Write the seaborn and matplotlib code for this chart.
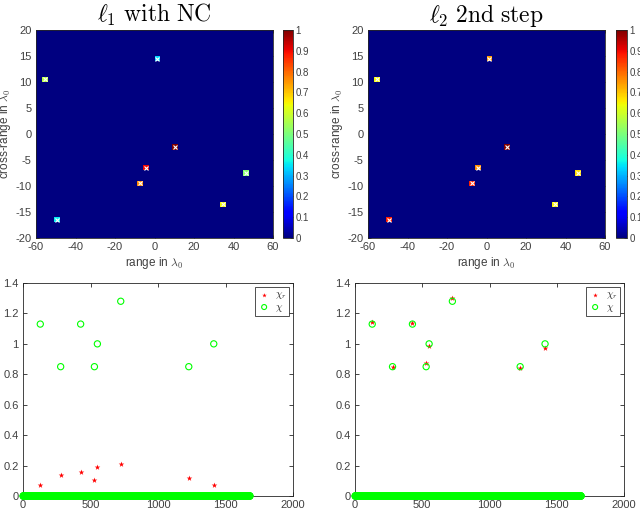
import numpy as np
import pandas as pd
import matplotlib
matplotlib.use("Agg")
import matplotlib.pyplot as plt
import seaborn as sns

# ---------------- data ----------------
target_index = [128, 279, 427, 529, 551, 724, 1228, 1413]
chi_true = [1.13, 0.85, 1.13, 0.85, 1.00, 1.28, 0.85, 1.00]
chi_r_nc = [0.075, 0.135, 0.160, 0.108, 0.190, 0.210, 0.120, 0.070]
chi_r_2nd = [1.141, 0.846, 1.136, 0.877, 0.985, 1.299, 0.840, 0.974]
target_x = [-49.5, 34.5, -7.5, 46.5, -4.5, 10.5, -55.5, 1.5]
target_y = [-16.5, -13.5, -9.5, -7.5, -6.5, -2.5, 10.5, 14.5]
n_unknowns = 1681
titles = [r"$\ell_1\ \mathrm{with\ NC}$", r"$\ell_2\ \mathrm{2nd\ step}$"]
x_ticks = [-60, -40, -20, 0, 20, 40, 60]
y_ticks = [20, 15, 10, 5, 0, -5, -10, -15, -20]
cbar_ticks = [0, 0.1, 0.2, 0.3, 0.4, 0.5, 0.6, 0.7, 0.8, 0.9, 1]
bx_ticks = [0, 500, 1000, 1500, 2000]
by_ticks = [0, 0.2, 0.4, 0.6, 0.8, 1.0, 1.2, 1.4]

# ---------------- style ----------------
sns.set_style("ticks")
plt.rcParams["font.family"] = ["Liberation Sans", "DejaVu Sans"]
plt.rcParams["mathtext.fontset"] = "cm"
TXT = "#404040"
EDGE = "#262626"

fig = plt.figure(figsize=(6.4, 5.09), dpi=100)
W, H = 640.0, 509.0


def fax(l, t, r, b):
    return fig.add_axes([l / W, 1 - b / H, (r - l) / W, (b - t) / H])


heat_axes = [fax(36, 30, 273, 238), fax(368, 30, 605, 238)]
cbar_axes = [fax(283, 30, 293, 238), fax(616, 30, 627, 238)]
bot_axes = [fax(23, 283, 293, 496), fax(355, 283, 624, 496)]

NX, NY = 40, 40
X0, DX = -60.0, 3.0
Y0, DY = 20.0, 1.0

for k, recon in enumerate([chi_r_nc, chi_r_2nd]):
    ax = heat_axes[k]
    cax = cbar_axes[k]
    img = np.zeros((NY, NX))
    m = max(recon)
    for x, y, v in zip(target_x, target_y, recon):
        col = int((x - X0) // DX)
        row = int((Y0 - y) // DY)
        img[row, col] = v / m
    sns.heatmap(img, ax=ax, cmap="jet", vmin=0, vmax=1, cbar_ax=cax,
                xticklabels=False, yticklabels=False,
                cbar_kws={"ticks": cbar_ticks})
    # true positions
    ax.plot([(x - X0) / DX for x in target_x], [(Y0 - y) / DY for y in target_y],
            linestyle="none", marker="x", color="white", markersize=2.2,
            markeredgewidth=0.8)
    ax.set_xticks([(v - X0) / DX for v in x_ticks])
    ax.set_xticklabels([str(v) for v in x_ticks])
    ax.set_yticks([(Y0 - v) / DY for v in y_ticks])
    ax.set_yticklabels([str(v) for v in y_ticks])
    ax.tick_params(axis="both", direction="in", length=2.5, width=0.6,
                   colors=EDGE, labelcolor=TXT, labelsize=8, pad=3,
                   top=True, right=True, labelrotation=0)
    for s in ax.spines.values():
        s.set_visible(True)
        s.set_color(EDGE)
        s.set_linewidth(0.6)
    ax.set_xlabel(r"range in $\lambda_0$", fontsize=8.5, color=TXT, labelpad=2)
    ax.set_ylabel(r"cross-range in $\lambda_0$", fontsize=8.5, color=TXT, labelpad=2)
    ax.set_title(titles[k], fontsize=17, pad=6, color="black")
    cb = ax.collections[0].colorbar
    cb.outline.set_visible(True)
    cb.outline.set_edgecolor(EDGE)
    cb.outline.set_linewidth(0.6)
    cb.ax.set_yticklabels(["%g" % t for t in cbar_ticks])
    cb.ax.tick_params(direction="in", length=2, width=0.5, colors=EDGE,
                      labelcolor=TXT, labelsize=7, pad=2)

for k, recon in enumerate([chi_r_nc, chi_r_2nd]):
    ax = bot_axes[k]
    full_r = np.zeros(n_unknowns)
    full_t = np.zeros(n_unknowns)
    for i, vr, vt in zip(target_index, recon, chi_true):
        full_r[i - 1] = vr
        full_t[i - 1] = vt
    df = pd.DataFrame({"index": np.arange(1, n_unknowns + 1),
                       "chi_r": full_r, "chi": full_t})
    sns.scatterplot(data=df, x="index", y="chi_r", ax=ax, marker="*",
                    color="red", s=18, linewidth=0, label=r"$\chi_r$",
                    clip_on=False, zorder=3)
    sns.scatterplot(data=df, x="index", y="chi", ax=ax, marker="o",
                    facecolors="none", edgecolor=(0, 1, 0), s=20,
                    linewidth=0.8, label=r"$\chi$", clip_on=False, zorder=4)
    ax.set_xlim(0, 2000)
    ax.set_ylim(0, 1.4)
    ax.set_xticks(bx_ticks)
    ax.set_xticklabels([str(v) for v in bx_ticks])
    ax.set_yticks(by_ticks)
    ax.set_yticklabels(["%g" % v for v in by_ticks])
    ax.set_xlabel("")
    ax.set_ylabel("")
    ax.tick_params(axis="both", direction="in", length=3, width=0.6,
                   colors=EDGE, labelcolor=TXT, labelsize=8, pad=3,
                   top=True, right=True)
    for s in ax.spines.values():
        s.set_visible(True)
        s.set_color(EDGE)
        s.set_linewidth(0.6)
    leg = ax.legend(loc="upper right", frameon=True, fancybox=False,
                    edgecolor="black", fontsize=7.5, borderaxespad=0.35,
                    handletextpad=0.4, borderpad=0.25, labelspacing=0.05,
                    handlelength=1.3, markerscale=0.8)
    leg.get_frame().set_linewidth(0.6)

fig.savefig("out.png", dpi=100)
